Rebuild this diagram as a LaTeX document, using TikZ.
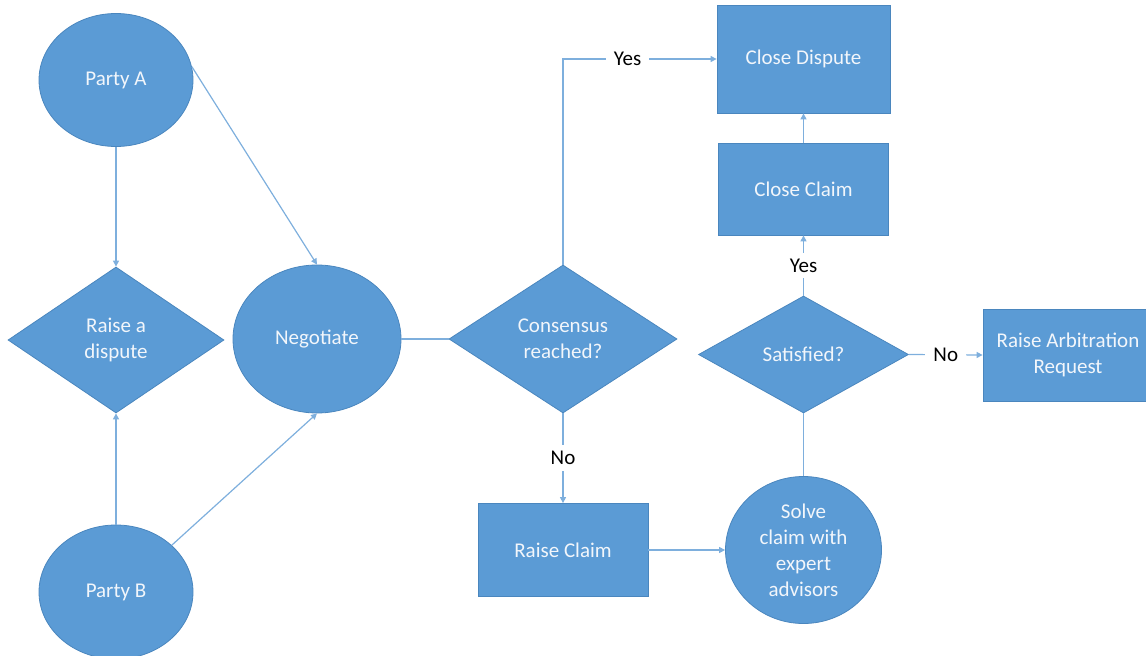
\documentclass[tikz,border=0pt]{standalone}
\usepackage{fontspec}
\setmainfont{Carlito}
\usetikzlibrary{shapes.geometric,arrows.meta}
\definecolor{boxblue}{HTML}{5B9BD5}
\definecolor{edgeblue}{HTML}{4A86BE}
\definecolor{lineblue}{HTML}{7EAFDD}
\definecolor{boxtext}{HTML}{F2F6FB}
\tikzset{
  shapebase/.style={fill=boxblue, draw=edgeblue, line width=0.8pt, text=boxtext, inner sep=0pt, align=center, font=\fontsize{21}{26}\selectfont},
  ovalbox/.style={shapebase, ellipse},
  rectbox/.style={shapebase, rectangle},
  decbox/.style={shapebase, diamond},
  conn/.style={draw=lineblue, line width=1.2pt},
  arr/.style={conn, -{Triangle[length=6pt,width=6pt]}},
  lbl/.style={fill=white, text=black, inner sep=8pt, font=\fontsize{21}{26}\selectfont},
}
\begin{document}
\begin{tikzpicture}[x=1pt,y=-1pt]
\useasboundingbox (0,0) rectangle (1146,656);
\node[ovalbox, minimum width=154pt, minimum height=133pt] (pa) at (116,80) {Party A};
\node[ovalbox, minimum width=154pt, minimum height=134pt] (pb) at (116,592) {Party B};
\node[decbox, minimum width=216pt, minimum height=146pt] (rd) at (116,340) {Raise a\\dispute};
\node[ovalbox, minimum width=168pt, minimum height=148pt] (neg) at (317,339) {Negotiate};
\node[decbox, minimum width=228pt, minimum height=148pt] (cons) at (563,339) {Consensus\\reached?};
\node[rectbox, minimum width=173pt, minimum height=108pt] (cd) at (803.5,59) {Close Dispute};
\node[rectbox, minimum width=170pt, minimum height=92pt] (cc) at (803.5,189) {Close Claim};
\node[decbox, minimum width=210pt, minimum height=117pt] (sat) at (803.5,354.5) {Satisfied?};
\node[rectbox, minimum width=170pt, minimum height=92pt] (rar) at (1068,355) {Raise Arbitration\\Request};
\node[rectbox, minimum width=170pt, minimum height=93pt] (rc) at (563,550) {Raise Claim};
\node[ovalbox, minimum width=156pt, minimum height=147pt] (solve) at (803.5,550) {Solve\\claim with\\expert\\advisors};

\draw[arr] (pa.south) -- (rd.north);
\draw[arr] (pb.north) -- (rd.south);
\draw[arr] (pa.10) -- (neg.north);
\draw[arr] (pb.40) -- (neg.south);
\draw[conn] (neg.east) -- (cons.west);
\draw[arr] (cons.north) |- node[lbl, pos=0.71] {Yes} (cd.west);
\draw[arr] (cons.south) -- node[lbl, inner sep=6pt] {No} (rc.north);
\draw[arr] (rc.east) -- (solve.west);
\draw[conn] (solve.north) -- (sat.south);
\draw[arr] (sat.north) -- node[lbl, inner sep=6pt] {Yes} (cc.south);
\draw[arr] (cc.north) -- (cd.south);
\draw[arr] (sat.east) -- node[lbl, inner sep=8pt] {No} (rar.west);
\end{tikzpicture}
\end{document}
